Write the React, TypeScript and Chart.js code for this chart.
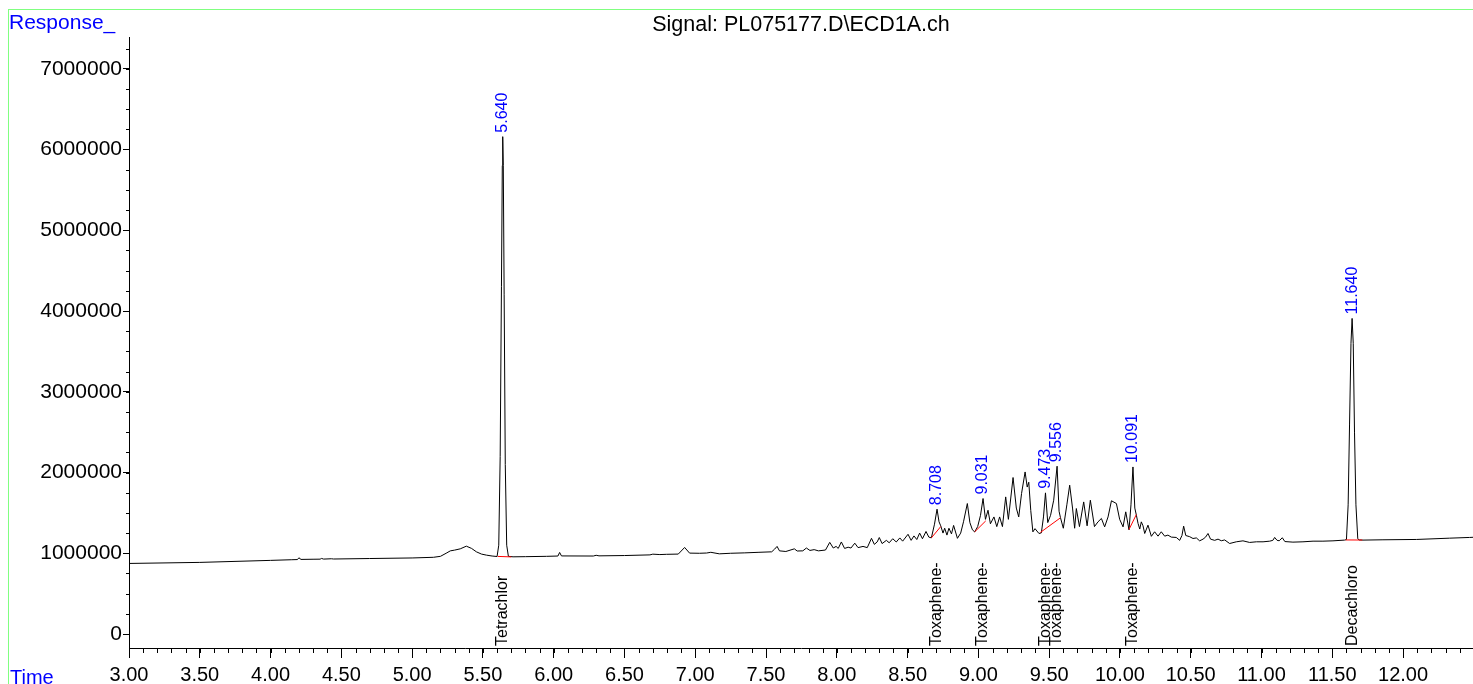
import React, { useEffect, useRef } from "react";
import { Chart, registerables } from "chart.js";

Chart.register(...registerables);

// ---------------- data ----------------
const titleText = "Signal: PL075177.D\\ECD1A.ch";
const yAxisName = "Response_";
const xAxisName = "Time";

const signalTimes = [
  3.0, 3.5, 4.0, 4.15, 4.19, 4.2, 4.215, 4.3, 4.35, 4.36, 4.375, 4.43, 4.445, 4.7, 5.0, 5.15, 5.2, 5.24, 5.27, 5.3,
  5.34, 5.383, 5.42, 5.454, 5.49, 5.525, 5.565, 5.6, 5.612, 5.622, 5.631, 5.637, 5.64, 5.644, 5.65, 5.658, 5.668, 5.68,
  5.713, 5.8, 5.95, 6.03, 6.042, 6.055, 6.28, 6.3, 6.32, 6.5, 6.68, 6.7, 6.75, 6.796, 6.88, 6.925, 6.96, 7.03,
  7.08, 7.11, 7.17, 7.25, 7.35, 7.45, 7.54, 7.56, 7.578, 7.595, 7.64, 7.7, 7.72, 7.76, 7.785, 7.81, 7.84, 7.87,
  7.92, 7.95, 7.975, 7.995, 8.01, 8.032, 8.055, 8.08, 8.1, 8.127, 8.15, 8.185, 8.215, 8.245, 8.265, 8.285, 8.3,
  8.32, 8.35, 8.37, 8.395, 8.42, 8.445, 8.465, 8.503, 8.525, 8.545, 8.565, 8.585, 8.605, 8.63, 8.65, 8.668,
  8.69, 8.708, 8.722, 8.734, 8.75, 8.762, 8.778, 8.792, 8.81, 8.825, 8.852, 8.875, 8.895, 8.922, 8.94, 8.958,
  8.974, 8.995, 9.015, 9.033, 9.05, 9.068, 9.085, 9.11, 9.13, 9.15, 9.17, 9.193, 9.212, 9.245, 9.268, 9.285,
  9.305, 9.33, 9.345, 9.356, 9.37, 9.385, 9.4, 9.428, 9.445, 9.46, 9.474, 9.49, 9.51, 9.532, 9.556, 9.57, 9.58,
  9.6, 9.625, 9.645, 9.665, 9.68, 9.692, 9.714, 9.744, 9.768, 9.791, 9.82, 9.845, 9.869, 9.892, 9.916, 9.94,
  9.975, 9.998, 10.022, 10.041, 10.064, 10.078, 10.092, 10.105, 10.116, 10.128, 10.14, 10.151, 10.163, 10.175,
  10.198, 10.222, 10.245, 10.269, 10.292, 10.316, 10.339, 10.363, 10.398, 10.422, 10.438, 10.45, 10.465, 10.493,
  10.516, 10.54, 10.563, 10.587, 10.605, 10.622, 10.64, 10.669, 10.693, 10.716, 10.74, 10.775, 10.822, 10.869,
  10.916, 10.964, 11.011, 11.058, 11.08, 11.093, 11.11, 11.125, 11.147, 11.165, 11.222, 11.293, 11.364, 11.434,
  11.505, 11.587, 11.6, 11.612, 11.622, 11.632, 11.64, 11.648, 11.657, 11.667, 11.68, 11.69, 11.717, 11.858,
  12.094, 12.329, 12.47, 12.494,
];

const signalResponses = [
  874000, 887000, 912000, 920000, 922000, 944000, 924000, 926000, 927000, 936000, 928000, 932000, 929000, 935000,
  942000, 950000, 962000, 1000000, 1030000, 1039000, 1055000, 1088000, 1060000, 1018000, 990000, 977000, 966000,
  960000, 1100000, 2200000, 4300000, 5800000, 6159000, 5800000, 4200000, 2100000, 1100000, 962000, 956000, 958000,
  962000, 966000, 1010000, 967000, 966000, 975000, 968000, 972000, 980000, 989000, 984000, 987000, 990000,
  1072000, 1002000, 1000000, 1003000, 1012000, 993000, 1000000, 1005000, 1012000, 1018000, 1050000, 1085000,
  1030000, 1022000, 1055000, 1028000, 1030000, 1065000, 1035000, 1045000, 1030000, 1040000, 1135000, 1065000,
  1085000, 1060000, 1140000, 1060000, 1075000, 1065000, 1125000, 1070000, 1085000, 1070000, 1185000, 1110000,
  1140000, 1195000, 1120000, 1160000, 1130000, 1180000, 1140000, 1190000, 1150000, 1235000, 1160000, 1215000,
  1170000, 1250000, 1180000, 1270000, 1200000, 1191000,
  1360000, 1546000, 1390000, 1340000, 1250000, 1310000, 1225000, 1310000, 1240000, 1345000, 1185000, 1250000,
  1390000, 1616000, 1380000, 1290000, 1265000, 1330000, 1470000, 1678000, 1420000, 1533000, 1365000, 1450000,
  1330000, 1450000, 1330000, 1698000, 1420000, 1938000, 1560000, 1450000, 1740000, 2007000, 1820000, 1880000,
  1530000, 1265000, 1305000, 1245000, 1253000, 1450000, 1748000, 1380000, 1470000, 1657000, 2078000, 1520000,
  1440000, 1310000, 1600000, 1843000, 1560000, 1310000, 1554000, 1330000, 1636000, 1340000, 1657000, 1330000,
  1389000, 1431000, 1327000, 1450000, 1650000, 1616000, 1420000, 1327000, 1513000, 1290000, 1600000, 2069000,
  1560000, 1472000, 1369000, 1300000, 1389000, 1340000, 1245000, 1348000, 1210000, 1266000, 1212000, 1266000,
  1212000, 1225000, 1200000, 1196000, 1160000, 1220000, 1336000, 1220000, 1205000, 1183000, 1190000, 1154000,
  1175000, 1200000, 1245000, 1175000, 1160000, 1175000, 1155000, 1165000, 1121000, 1142000, 1154000, 1134000,
  1142000, 1142000, 1150000, 1160000, 1196000, 1160000, 1155000, 1192000, 1145000, 1138000, 1142000, 1150000,
  1150000, 1154000, 1163000, 1170000, 1600000, 2600000, 3600000, 3908000, 3600000, 2500000, 1600000, 1180000,
  1165000, 1163000, 1167000, 1171000, 1187000, 1196000, 1198000,
];

// integration baselines (red)
const baseStartTimes = [5.605, 8.668, 8.974, 9.438, 10.064, 11.594];
const baseStartValues = [961000, 1191000, 1265000, 1258000, 1295000, 1165000];
const baseEndTimes = [5.7, 8.734, 9.052, 9.579, 10.116, 11.712];
const baseEndValues = [955000, 1330000, 1401000, 1438000, 1480000, 1164000];

// peak annotations
const peakTimes = [5.64, 8.708, 9.031, 9.473, 9.556, 10.091, 11.64];
const peakApexValues = [6159000, 1546000, 1678000, 1748000, 2078000, 2069000, 3908000];
const peakLabels = ["5.640", "8.708", "9.031", "9.473", "9.556", "10.091", "11.640"];
const compoundNames = ["Tetrachlor", "Toxaphene-", "Toxaphene-", "Toxaphene-", "Toxaphene-", "Toxaphene-", "Decachloro"];

// axes
const xMin = 3.0;
const xMax = 12.494;
const xMajorStep = 0.5;
const xMinorStep = 0.1;
const yMin = -173000;
const yMax = 7383000;
const yTickValues = [0, 1000000, 2000000, 3000000, 4000000, 5000000, 6000000, 7000000];
const yMinorStep = 250000;

const FONT = "'Liberation Sans', Arial, Helvetica, sans-serif";

const decorPlugin = {
  id: "decor",
  beforeDraw(chart: any) {
    const ctx = chart.ctx;
    ctx.save();
    ctx.fillStyle = "rgb(128,255,128)";
    ctx.fillRect(8, 9, chart.width - 8, 1);
    ctx.fillRect(8, 9, 1, chart.height - 9);
    ctx.restore();
  },
  afterDraw(chart: any) {
    const ctx = chart.ctx;
    const xs = chart.scales.x;
    const ys = chart.scales.y;
    const area = chart.chartArea;
    ctx.save();
    // minor ticks
    ctx.strokeStyle = "#000";
    ctx.lineWidth = 1;
    ctx.beginPath();
    const nx = Math.floor((xMax - xMin) / xMinorStep + 1e-6);
    for (let i = 0; i <= nx; i++) {
      const v = xMin + i * xMinorStep;
      const px = Math.round(xs.getPixelForValue(v)) + 0.5;
      ctx.moveTo(px, area.bottom);
      ctx.lineTo(px, area.bottom + 5);
    }
    const ny0 = Math.ceil(yMin / yMinorStep);
    const ny1 = Math.floor(yMax / yMinorStep);
    for (let i = ny0; i <= ny1; i++) {
      const v = i * yMinorStep;
      const py = Math.round(ys.getPixelForValue(v)) + 0.5;
      ctx.moveTo(area.left, py);
      ctx.lineTo(area.left - 3, py);
    }
    ctx.stroke();

    // peak retention-time labels
    ctx.font = `16px ${FONT}`;
    ctx.textBaseline = "middle";
    ctx.textAlign = "left";
    for (let i = 0; i < peakTimes.length; i++) {
      const px = xs.getPixelForValue(peakTimes[i]);
      const py = ys.getPixelForValue(peakApexValues[i]) - 4;
      ctx.save();
      ctx.translate(px, py);
      ctx.rotate(-Math.PI / 2);
      ctx.fillStyle = "#0000ff";
      ctx.fillText(peakLabels[i], 0, 0);
      ctx.restore();
    }
    // compound names
    for (let i = 0; i < peakTimes.length; i++) {
      const px = xs.getPixelForValue(peakTimes[i]);
      ctx.save();
      ctx.translate(px, area.bottom - 2);
      ctx.rotate(-Math.PI / 2);
      ctx.fillStyle = "#000";
      ctx.fillText(compoundNames[i], 0, 0);
      ctx.restore();
    }
    // axis names
    ctx.fillStyle = "#0000ff";
    ctx.textBaseline = "alphabetic";
    ctx.font = `21px ${FONT}`;
    ctx.fillText(yAxisName, 9, 29);
    ctx.font = `20px ${FONT}`;
    ctx.fillText(xAxisName, 10, 684);
    ctx.restore();
  },
};

export default function App() {
  const canvasRef = useRef<HTMLCanvasElement | null>(null);

  useEffect(() => {
    const canvas = canvasRef.current;
    if (!canvas) return;
    const signal = signalTimes.map((t, i) => ({ x: t, y: signalResponses[i] }));
    const baseSets = baseStartTimes.map((t, i) => ({
      label: "baseline " + (i + 1),
      data: [
        { x: t, y: baseStartValues[i] },
        { x: baseEndTimes[i], y: baseEndValues[i] },
      ],
      borderColor: "#ff0000",
      borderWidth: 1,
      pointRadius: 0,
      fill: false,
      order: 0,
    }));
    const chart = new Chart(canvas, {
      type: "line",
      data: {
        datasets: [
          ...baseSets,
          {
            label: "ECD1A",
            data: signal,
            borderColor: "#000000",
            borderWidth: 1,
            pointRadius: 0,
            tension: 0,
            fill: false,
            order: 1,
          },
        ],
      },
      options: {
        animation: false,
        responsive: false,
        events: [],
        layout: { padding: 0 },
        plugins: {
          legend: { display: false },
          tooltip: { enabled: false },
          title: {
            display: true,
            text: titleText,
            fullSize: false,
            color: "#000",
            font: { family: FONT, size: 21.5, weight: "normal" },
            padding: { top: 12, bottom: 0 },
          },
        },
        scales: {
          x: {
            type: "linear",
            min: xMin,
            max: xMax,
            afterFit: (s: any) => {
              s.height = 36;
            },
            ticks: {
              stepSize: xMajorStep,
              includeBounds: false,
              autoSkip: false,
              maxRotation: 0,
              color: "#000",
              padding: 5,
              font: { family: FONT, size: 20 },
              callback: (v: any) => Number(v).toFixed(2),
            },
            grid: { drawOnChartArea: false, drawTicks: true, tickLength: 10, tickColor: "#000" },
            border: { color: "#000", width: 1 },
          },
          y: {
            type: "linear",
            min: yMin,
            max: yMax,
            afterFit: (s: any) => {
              s.width = 129;
            },
            afterBuildTicks: (s: any) => {
              s.ticks = yTickValues.map((v) => ({ value: v }));
            },
            ticks: {
              autoSkip: false,
              color: "#000",
              padding: 1,
              font: { family: FONT, size: 21 },
              callback: (v: any) => String(Math.round(Number(v))),
            },
            grid: { drawOnChartArea: false, drawTicks: true, tickLength: 6, tickColor: "#000" },
            border: { color: "#000", width: 1 },
          },
        },
      } as any,
      plugins: [decorPlugin],
    });
    return () => chart.destroy();
  }, []);

  return (
    <canvas
      ref={canvasRef}
      width={1473}
      height={684}
      style={{ position: "fixed", left: 0, top: 0, width: 1473, height: 684, display: "block" }}
    />
  );
}
